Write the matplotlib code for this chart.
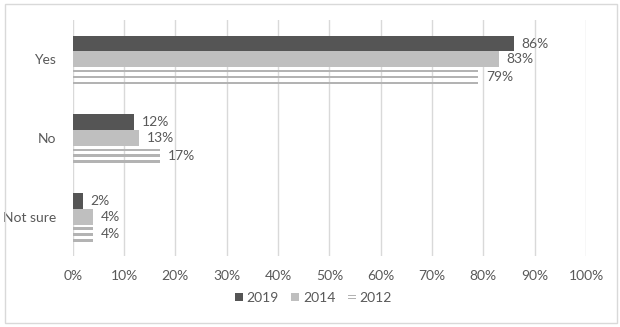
import matplotlib
matplotlib.use("Agg")
import matplotlib.pyplot as plt
from matplotlib.patches import Rectangle
from matplotlib.legend_handler import HandlerBase

categories = ["Yes", "No", "Not sure"]
years = ["2019", "2014", "2012"]
values_2019 = [86, 12, 2]
values_2014 = [83, 13, 4]
values_2012 = [79, 17, 4]
xticks = [0, 10, 20, 30, 40, 50, 60, 70, 80, 90, 100]

TEXT = "#595959"
DARK = "#555555"
LIGHT = "#bfbfbf"
STRIPE = "#b3b3b3"
GRID = "#d9d9d9"
FS = 10

plt.rcParams["font.family"] = ["Lato", "DejaVu Sans"]

fig = plt.figure(figsize=(6.2, 3.27), dpi=100)
ax = fig.add_axes([72.7 / 620, 1 - 256 / 327, (586 - 72.7) / 620, (256 - 20) / 327])

ypos = list(range(len(categories)))
bar_h = 0.2
ax.barh([y - 0.2 for y in ypos], [v / 100 for v in values_2019], height=bar_h,
        color=DARK, zorder=3)
ax.barh([y for y in ypos], [v / 100 for v in values_2014], height=bar_h,
        color=LIGHT, zorder=3)
# 2012 series drawn as three thin stripes
for off in (0.15, 0.225, 0.30):
    ax.barh([y + off for y in ypos], [v / 100 for v in values_2012], height=0.033,
            color=STRIPE, zorder=3)

label_kw = dict(va="center", ha="left", fontsize=FS, color=TEXT, zorder=4)
for y, a, b, c in zip(ypos, values_2019, values_2014, values_2012):
    ax.text(a / 100 + 0.015, y - 0.2, f"{a}%", **label_kw)
    ax.text(b / 100 + 0.015, y, f"{b}%", **label_kw)
    ax.text(c / 100 + 0.015, y + 0.225, f"{c}%", **label_kw)

ax.set_xlim(0, 1)
ax.set_ylim(2.5, -0.5)
ax.set_xticks([t / 100 for t in xticks])
ax.set_xticklabels([f"{t}%" for t in xticks])
ax.set_yticks(ypos)
ax.set_yticklabels(categories)
ax.tick_params(axis="both", length=0, labelsize=FS, labelcolor=TEXT)
ax.tick_params(axis="x", pad=10)
ax.tick_params(axis="y", pad=12)
ax.grid(axis="x", color=GRID, linewidth=1, zorder=0)
for s in ax.spines.values():
    s.set_visible(False)


class StripeHandler(HandlerBase):
    def create_artists(self, legend, orig_handle, xdescent, ydescent, width, height,
                       fontsize, trans):
        w = height * 0.8
        x0 = xdescent + (width - w) / 2
        arts = []
        for frac in (0.28, 0.6):
            r = Rectangle((x0, -ydescent + height * frac), w, height * 0.12,
                          facecolor=STRIPE, edgecolor="none", transform=trans)
            arts.append(r)
        return arts


class SquareHandler(HandlerBase):
    def create_artists(self, legend, orig_handle, xdescent, ydescent, width, height,
                       fontsize, trans):
        w = height * 0.8
        x0 = xdescent + (width - w) / 2
        r = Rectangle((x0, -ydescent + (height - w) / 2), w, w,
                      facecolor=orig_handle.get_facecolor(), edgecolor="none",
                      transform=trans)
        return [r]


h19 = Rectangle((0, 0), 1, 1, facecolor=DARK)
h14 = Rectangle((0, 0), 1, 1, facecolor=LIGHT)
h12 = Rectangle((0, 0), 1, 1, facecolor=STRIPE)
leg = fig.legend([h19, h14, h12], years, loc="center", bbox_to_anchor=(313 / 620, 1 - 298 / 327),
                 ncol=3, frameon=False, fontsize=FS, handlelength=0.7, handletextpad=0.2,
                 columnspacing=0.85,
                 handler_map={h19: SquareHandler(), h14: SquareHandler(), h12: StripeHandler()})
for t in leg.get_texts():
    t.set_color(TEXT)

fig.patches.append(Rectangle((5 / 620, 4 / 327), 612 / 620, 319 / 327, transform=fig.transFigure,
                             facecolor="none", edgecolor=GRID, linewidth=1))

fig.savefig("out.png", dpi=100)
